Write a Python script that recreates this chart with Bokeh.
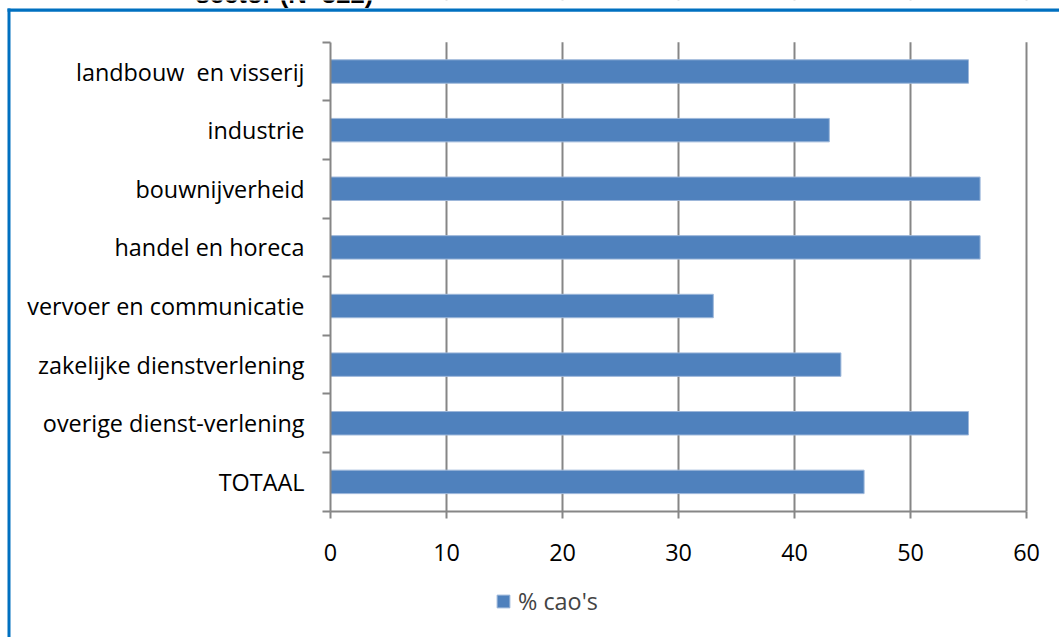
from bokeh.plotting import figure
from bokeh.models import (Range1d, FixedTicker, Legend, LegendItem, ColumnDataSource,
                          BoxAnnotation, Label)
from bokeh.embed import file_html
from bokeh.resources import INLINE

categories = ["landbouw\u00a0 en visserij", "industrie", "bouwnijverheid", "handel en horeca",
              "vervoer en communicatie", "zakelijke dienstverlening",
              "overige dienst-verlening", "TOTAAL"]
values = [55, 43, 56, 56, 33, 44, 55, 46]
series_name = "% cao's"
x_ticks = [0, 10, 20, 30, 40, 50, 60]
title_text = "sector (N=322)"

n = len(categories)
centers = [n - i - 0.5 for i in range(n)]
src = ColumnDataSource(dict(y=centers, v=values, cat=categories))

FONT = "Open Sans"
FS = "23.4px"
GRAY = "#868686"
BAR = "#4F81BD"
FRAME_BLUE = "#0070C0"

W, H = 1059, 637
# page layout: x = 0 sits at 330 px, 11.6 px per unit; y = 0 at 510.7 px, 58.625 px per category
X0, XS = 330.0, 11.6
Y0, YS = 510.7, 58.625


def px_x(px):
    return (px - X0) / XS


def px_y(py):
    return (Y0 - py) / YS


# The frame covers the whole figure; the axes sit at fixed data locations inside it,
# so that the axis labels, the legend and the decorations are not clipped.
p = figure(width=W, height=H, output_backend="svg", toolbar_location=None,
           x_range=Range1d(px_x(0), px_x(W)), y_range=Range1d(px_y(H), px_y(0)),
           min_border_left=0, min_border_right=0, min_border_top=0, min_border_bottom=0)
p.outline_line_color = None
p.background_fill_color = "white"
p.border_fill_color = "white"

r = p.hbar(y="y", right="v", left=0, height=0.4, source=src, fill_color=BAR,
           line_color="#9DB7DA", line_width=1)

# x axis, fixed at y = 0
xa = p.xaxis[0]
xa.fixed_location = 0
xa.bounds = (x_ticks[0], x_ticks[-1])
xa.ticker = FixedTicker(ticks=x_ticks)
xa.axis_line_color = GRAY
xa.axis_line_width = 2
xa.major_tick_line_color = GRAY
xa.major_tick_line_width = 2
xa.major_tick_in = 0
xa.major_tick_out = 7
xa.minor_tick_line_color = None
xa.major_label_text_font = FONT
xa.major_label_text_font_size = FS
xa.major_label_text_color = "black"
xa.major_label_standoff = 26

# y axis at x = 0: labels at centers, ticks at boundaries
ya = p.yaxis[0]
ya.fixed_location = 0
ya.bounds = (0, n)
ya.ticker = FixedTicker(ticks=centers, minor_ticks=list(range(n + 1)))
ya.major_label_overrides = {c: cat for c, cat in zip(centers, categories)}
ya.axis_line_color = GRAY
ya.axis_line_width = 2
ya.major_tick_line_color = None
ya.major_tick_in = 0
ya.major_tick_out = 0
ya.minor_tick_line_color = GRAY
ya.minor_tick_line_width = 2
ya.minor_tick_in = 0
ya.minor_tick_out = 8
ya.major_label_text_font = FONT
ya.major_label_text_font_size = FS
ya.major_label_text_color = "black"
ya.major_label_standoff = 18

p.ygrid.grid_line_color = None
p.xgrid.ticker = FixedTicker(ticks=x_ticks[1:])
p.xgrid.grid_line_color = GRAY
p.xgrid.grid_line_width = 2

# keep the grid lines within the category band only
p.add_layout(BoxAnnotation(bottom=n, fill_color="white", fill_alpha=1, line_alpha=0, level="underlay"))
p.add_layout(BoxAnnotation(top=0, fill_color="white", fill_alpha=1, line_alpha=0, level="underlay"))

# title, cut off by the top edge as in the original
p.add_layout(Label(x=px_x(195), y=px_y(-7), text=title_text, text_font="Liberation Sans",
                   text_font_style="bold", text_font_size="25.7px", text_color="black",
                   text_baseline="alphabetic", text_align="left"))

# blue chart-area border (left and top edges visible)
p.add_layout(BoxAnnotation(left=px_x(7), right=px_x(10), top=px_y(8),
                           fill_color=FRAME_BLUE, fill_alpha=1, line_alpha=0))
p.add_layout(BoxAnnotation(left=px_x(7), top=px_y(8), bottom=px_y(11.3),
                           fill_color=FRAME_BLUE, fill_alpha=1, line_alpha=0))

legend = Legend(items=[LegendItem(label=series_name, renderers=[r])],
                location=(495, 20), orientation="horizontal",
                padding=0, margin=0, border_line_color=None, background_fill_alpha=0,
                glyph_width=16, glyph_height=16, label_standoff=7,
                label_text_font=FONT, label_text_font_size=FS)
p.add_layout(legend, "center")

open("out.html", "w").write(file_html(p, INLINE))
